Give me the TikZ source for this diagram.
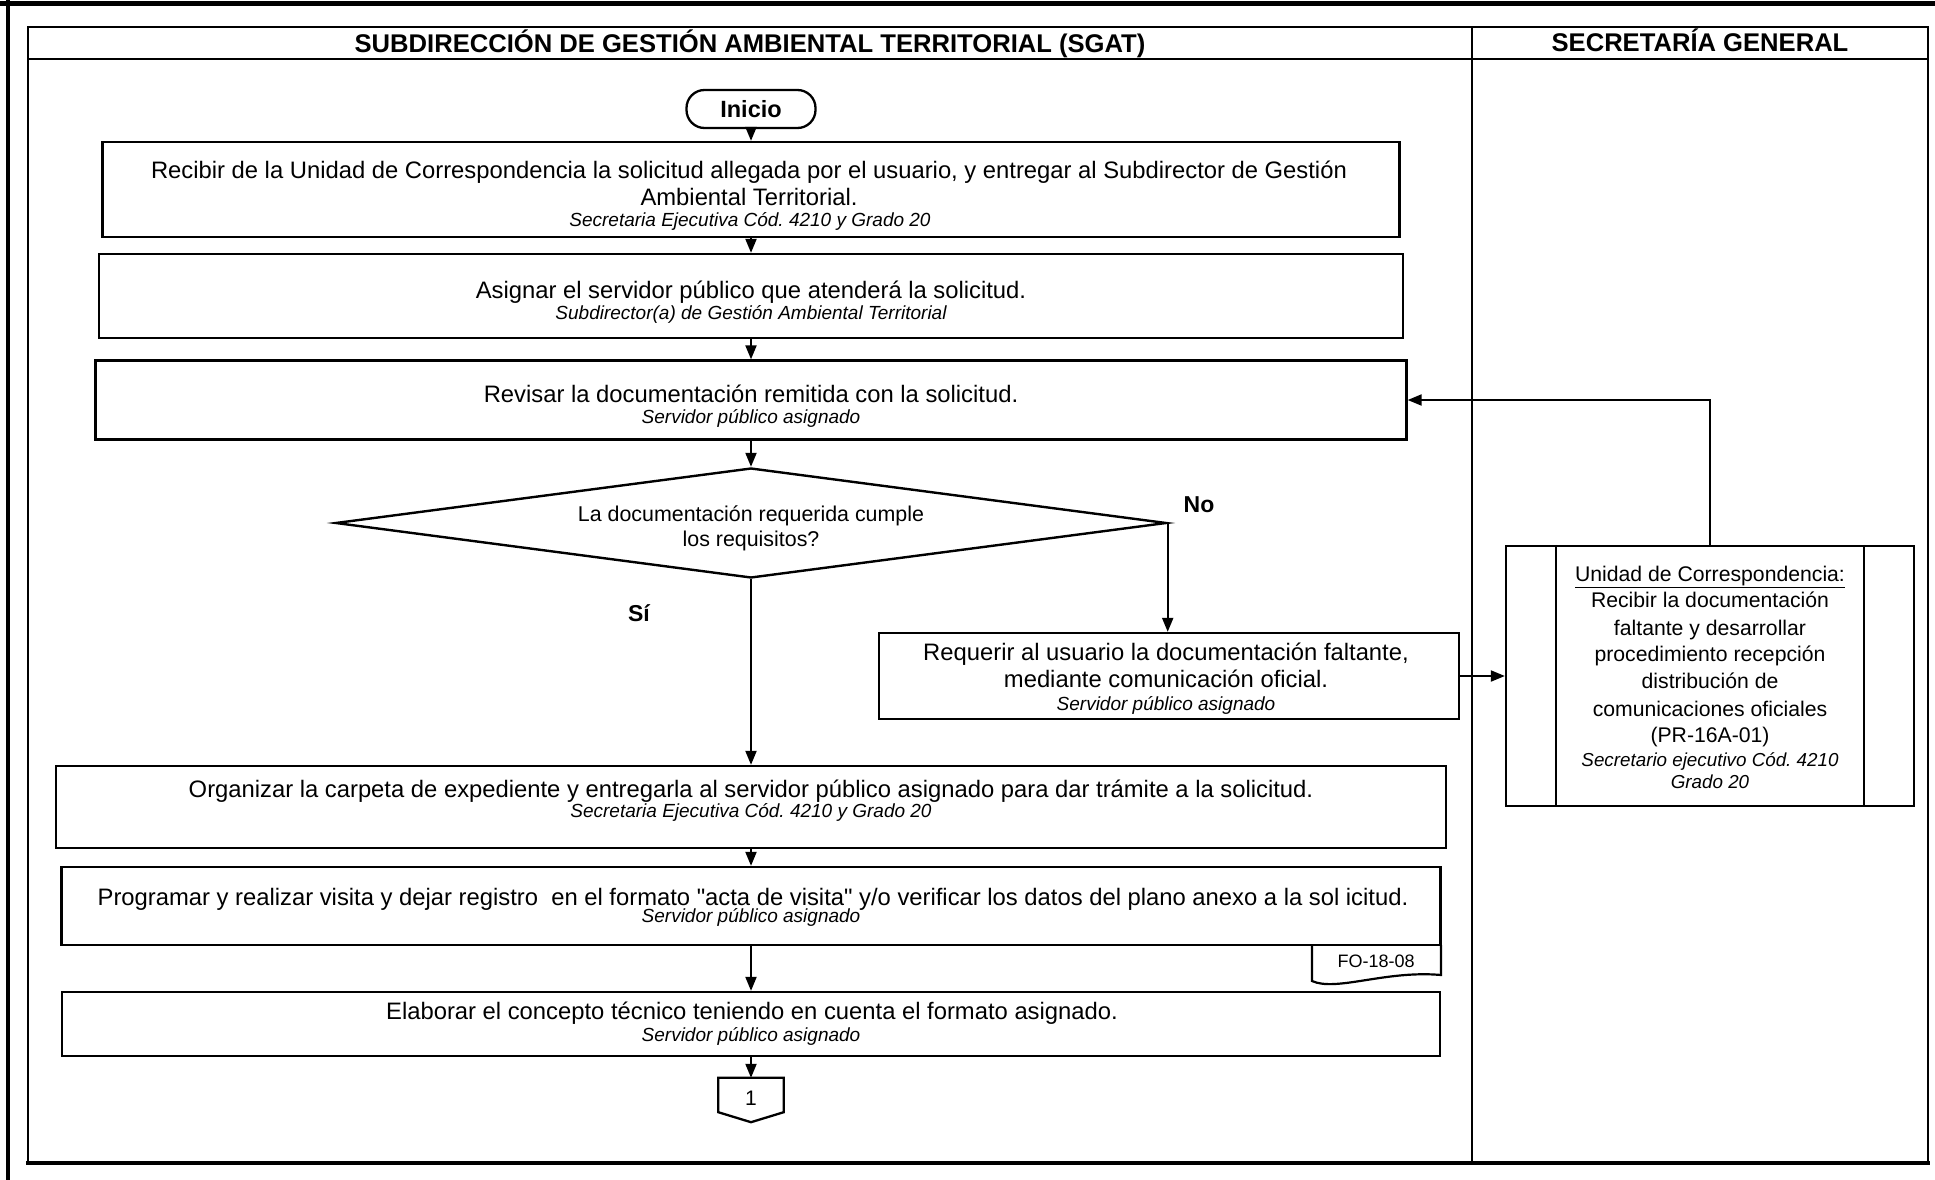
\documentclass[tikz,border=0pt]{standalone}
\usepackage{fontspec}
\setmainfont{Liberation Sans}
\newfontfamily\nomapfont{Liberation Sans}[Ligatures=ResetAll]
\usetikzlibrary{arrows.meta,shapes.geometric,calc}
\frenchspacing
\begin{document}
\begin{tikzpicture}[x=1pt,y=-1pt,
  box/.style={draw, line width=2.3pt, rectangle, inner sep=0pt},
  term/.style={draw, line width=2.3pt, rectangle, rounded corners=18pt, inner sep=0pt,
    minimum width=129pt, minimum height=38pt, font=\fontsize{23.5}{27}\selectfont\bfseries},
  dec/.style={draw, line width=2.4pt, diamond, inner sep=0pt},
  mtxt/.style={anchor=base, inner sep=0pt, font=\fontsize{23.8}{27}\selectfont},
  itxt/.style={anchor=base, inner sep=0pt, font=\fontsize{19}{22}\selectfont\itshape},
  stxt/.style={anchor=base, inner sep=0pt, font=\fontsize{21.2}{27}\selectfont},
  sitxt/.style={anchor=base, inner sep=0pt, font=\fontsize{18.8}{22}\selectfont\itshape},
  dtxt/.style={anchor=base, inner sep=0pt, font=\fontsize{21.4}{26}\selectfont},
  btxt/.style={anchor=base, inner sep=0pt, font=\fontsize{23}{27}\selectfont\bfseries},
  htxt/.style={anchor=base, inner sep=0pt, font=\fontsize{25.6}{30}\selectfont\bfseries},
  flow/.style={line width=2pt, -{Triangle[length=14pt,width=11pt]}},
  frame/.style={line width=2pt},
]
\useasboundingbox (0,0) rectangle (1935,1180);
\fill[white] (0,0) rectangle (1935,1180);

% outer frame and lanes
\draw[line width=5pt] (0,4) -- (1935,4);
\draw[line width=4pt] (8,0) -- (8,1180);
\draw[frame] (28,1163) -- (28,27) -- (1928,27) -- (1928,1163);
\draw[line width=3.5pt] (26,1163) -- (1930,1163);
\draw[frame] (28,59) -- (1928,59);
\draw[frame] (1472,27) -- (1472,1163);

% headers
\node[htxt] (h1) at (750,53) {SUBDIRECCIÓN DE GESTIÓN AMBIENTAL TERRITORIAL (SGAT)};
\node[htxt] (h2) at (1700,52) {SECRETARÍA GENERAL};

% start
\node[term] (ini) at (751,109) {Inicio};

% box 1
\node[box, minimum width=1297pt, minimum height=95pt] (b1) at (751,189.5) {};
\node[mtxt] (b1a) at (749,178) {Recibir de la Unidad de Correspondencia la solicitud allegada por el usuario, y entregar al Subdirector de Gestión};
\node[mtxt] (b1b) at (749,205) {Ambiental Territorial.};
\node[itxt] (b1c) at (750,226) {Secretaria Ejecutiva Cód. 4210 y Grado 20};

% box 2
\node[box, minimum width=1304pt, minimum height=84pt] (b2) at (751,296) {};
\node[mtxt] (b2a) at (751,298) {Asignar el servidor público que atenderá la solicitud.};
\node[itxt] (b2b) at (751,319) {Subdirector(a) de Gestión Ambiental Territorial};

% box 3
\node[box, minimum width=1311pt, minimum height=79pt] (b3) at (751,400) {};
\node[mtxt] (b3a) at (751,402) {Revisar la documentación remitida con la solicitud.};
\node[itxt] (b3b) at (751,423) {Servidor público asignado};

% decision
\node[dec, minimum width=831pt, minimum height=110pt] (d) at (751,523) {};
\node[dtxt] (da) at (751,521) {La documentación requerida cumple};
\node[dtxt] (db) at (751,546) {los requisitos?};
\node[btxt] (no) at (1199,512) {No};
\node[btxt] (si) at (639,621) {Sí};

% requerir
\node[box, minimum width=580pt, minimum height=86pt] (req) at (1169,676) {};
\node[mtxt] (reqa) at (1166,660) {Requerir al usuario la documentación faltante,};
\node[mtxt] (reqb) at (1166,687) {mediante comunicación oficial.};
\node[itxt] (reqc) at (1166,710) {Servidor público asignado};

% organizar
\node[box, minimum width=1390pt, minimum height=82pt] (org) at (751,807) {};
\node[mtxt] (orga) at (751,797) {Organizar la carpeta de expediente y entregarla al servidor público asignado para dar trámite a la solicitud.};
\node[itxt] (orgb) at (751,817) {Secretaria Ejecutiva Cód. 4210 y Grado 20};

% programar
\node[box, minimum width=1379pt, minimum height=78pt] (prog) at (751,906) {};
\node[mtxt] (proga) at (753,905) {Programar y realizar visita y dejar registro\ \ en el formato {\nomapfont"}acta de visita{\nomapfont"} y/o verificar los datos del plano anexo a la sol icitud.};
\node[itxt] (progb) at (751,922) {Servidor público asignado};

% document FO-18-08
\draw[line width=2.2pt] (1312,945) -- (1312,981) .. controls (1336,992) and (1386,970) .. (1441,975) -- (1441,945);
\node[anchor=base, inner sep=0pt, font=\fontsize{18}{22}\selectfont] (fo) at (1376,967) {FO-18-08};

% elaborar
\node[box, minimum width=1378pt, minimum height=64pt] (elab) at (751,1024) {};
\node[mtxt] (elaba) at (752,1019) {Elaborar el concepto técnico teniendo en cuenta el formato asignado.};
\node[itxt] (elabb) at (751,1041) {Servidor público asignado};

% off-page connector
\node[inner sep=0pt, minimum width=65pt, minimum height=34pt] (con) at (751,1095) {};
\draw[line width=2.3pt] (con.north west) -- (con.south west) -- ($(con.south)+(0,10)$) -- (con.south east) -- (con.north east) -- cycle;
\node[anchor=base, inner sep=0pt, font=\fontsize{21}{25}\selectfont] (cont) at (751,1105) {1};

% side process box (Secretaría General)
\node[box, minimum width=408pt, minimum height=260pt] (side) at (1710,676) {};
\draw[line width=2.3pt] ($(side.north west)+(51,0)$) -- ($(side.south west)+(51,0)$);
\draw[line width=2.3pt] ($(side.north east)+(-51,0)$) -- ($(side.south east)+(-51,0)$);
\node[stxt] (s1) at (1710,581.7) {\underline{Unidad de Correspondencia:}};
\node[stxt] (s2) at (1710,607.3) {Recibir la documentación};
\node[stxt] (s3) at (1710,635) {faltante y desarrollar};
\node[stxt] (s4) at (1710,661.7) {procedimiento recepción};
\node[stxt] (s5) at (1710,688.3) {distribución de};
\node[stxt] (s6) at (1710,716) {comunicaciones oficiales};
\node[stxt] (s7) at (1710,742.7) {(PR-16A-01)};
\node[sitxt] (s8) at (1710,766.7) {Secretario ejecutivo Cód. 4210};
\node[sitxt] (s9) at (1710,788.3) {Grado 20};

% connectors
\draw[flow] (ini.south) -- (b1.north);
\draw[flow] (b1.south) -- (b2.north);
\draw[flow] (b2.south) -- (b3.north);
\draw[flow] (b3.south) -- (d.north);
\draw[flow] (d.east) -- (d.east |- req.north);
\draw[flow] (d.south) -- (org.north);
\draw[flow] (org.south) -- (prog.north);
\draw[flow] (prog.south) -- (elab.north);
\draw[flow] (elab.south) -- (con.north);
\draw[flow] (req.east) -- (side.west);
\draw[flow] (side.north) |- (b3.east);
\end{tikzpicture}
\end{document}
